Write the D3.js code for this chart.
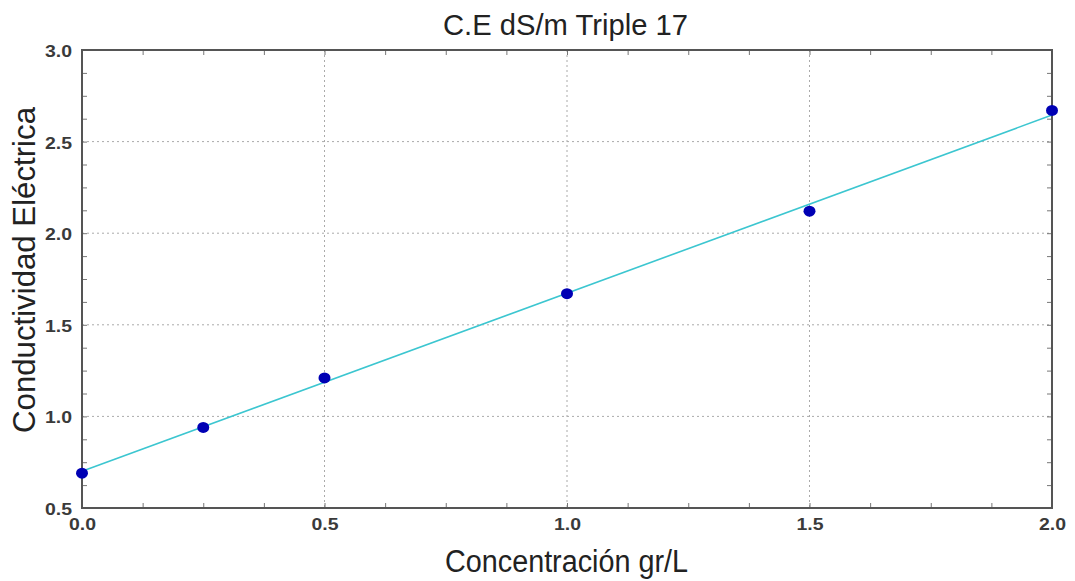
<!DOCTYPE html>
<html><head><meta charset="utf-8">
<script src="https://cdn.jsdelivr.net/npm/d3@7"></script>
<style>body{margin:0;background:#fff}svg{display:block}</style>
</head><body><svg id="c" width="1075" height="581"></svg>
<script>
const xValues = [0, 0.25, 0.5, 1.0, 1.5, 2.0];
const yValues = [0.69, 0.94, 1.21, 1.67, 2.12, 2.67];
const fitX = [0, 2.0];
const fitY = [0.70, 2.645];
const xTicks = [0, 0.5, 1.0, 1.5, 2.0];
const yTicks = [0.5, 1.0, 1.5, 2.0, 2.5, 3.0];
const title = "C.E dS/m Triple 17";
const xLabel = "Concentración gr/L";
const yLabel = "Conductividad Eléctrica";

const svg = d3.select("#c");
const L=82,R=1052,T=50,B=508;
const x = d3.scaleLinear().domain([0,2]).range([L,R]);
const y = d3.scaleLinear().domain([0.5,3]).range([B,T]);
const font = "'Liberation Sans', Arial, sans-serif";

// grid
svg.append("g").selectAll("line").data(xTicks.slice(1,-1)).join("line")
  .attr("x1",d=>x(d)).attr("x2",d=>x(d)).attr("y1",T).attr("y2",B)
  .attr("stroke","#aaa").attr("stroke-width",1).attr("stroke-dasharray","2,3");
svg.append("g").selectAll("line").data(yTicks.slice(1,-1)).join("line")
  .attr("y1",d=>y(d)).attr("y2",d=>y(d)).attr("x1",L).attr("x2",R)
  .attr("stroke","#aaa").attr("stroke-width",1).attr("stroke-dasharray","2,3");

// axes (ticks inward)
const minorX = d3.range(0,2.0001,0.125);
const minorY = d3.range(0.5,3.0001,0.125);
const axB = d3.axisBottom(x).tickValues(minorX).tickSize(-5).tickFormat("");
const axT = d3.axisTop(x).tickValues(minorX).tickSize(-5).tickFormat("");
const axL = d3.axisLeft(y).tickValues(minorY).tickSize(-5).tickFormat("");
const axR = d3.axisRight(y).tickValues(minorY).tickSize(-5).tickFormat("");
[[axB,`translate(0,${B})`],[axT,`translate(0,${T})`],[axL,`translate(${L},0)`],[axR,`translate(${R},0)`]].forEach(([a,t])=>{
  const g=svg.append("g").attr("transform",t).call(a);
  g.select(".domain").remove();
  g.selectAll("line").attr("stroke","#777");
});
svg.append("rect").attr("x",L).attr("y",T).attr("width",R-L).attr("height",B-T)
  .attr("fill","none").attr("stroke","#555").attr("stroke-width",2);

// tick labels
svg.append("g").selectAll("text").data(xTicks).join("text")
  .attr("x",d=>x(d)-13).attr("y",B+22)
  .attr("textLength",27).attr("lengthAdjust","spacingAndGlyphs")
  .attr("font-family",font).attr("font-size",16).attr("font-weight","bold").attr("fill","#3a3a3a")
  .text(d=>d.toFixed(1));
svg.append("g").selectAll("text").data(yTicks).join("text")
  .attr("x",L-37).attr("y",d=>y(d)+7)
  .attr("textLength",27).attr("lengthAdjust","spacingAndGlyphs")
  .attr("font-family",font).attr("font-size",16).attr("font-weight","bold").attr("fill","#3a3a3a")
  .text(d=>d.toFixed(1));

// fit line
const line = d3.line().x(d=>x(d[0])).y(d=>y(d[1]));
svg.append("path").datum(fitX.map((v,i)=>[v,fitY[i]])).attr("d",line)
  .attr("fill","none").attr("stroke","#3cc6d0").attr("stroke-width",1.6);

// points
svg.append("g").selectAll("ellipse").data(xValues.map((v,i)=>[v,yValues[i]])).join("ellipse")
  .attr("cx",d=>x(d[0])).attr("cy",d=>y(d[1])).attr("rx",6).attr("ry",5.5)
  .attr("fill","#0000b4");

// titles
svg.append("text").attr("x",443).attr("y",35)
  .attr("textLength",245).attr("lengthAdjust","spacingAndGlyphs")
  .attr("font-family",font).attr("font-size",30).attr("fill","#222").text(title);
svg.append("text").attr("x",445).attr("y",572)
  .attr("textLength",243).attr("lengthAdjust","spacingAndGlyphs")
  .attr("font-family",font).attr("font-size",31).attr("fill","#222").text(xLabel);
svg.append("text").attr("transform",`translate(35,433) rotate(-90)`)
  .attr("textLength",326).attr("lengthAdjust","spacingAndGlyphs")
  .attr("font-family",font).attr("font-size",31).attr("fill","#222").text(yLabel);
</script></body></html>
